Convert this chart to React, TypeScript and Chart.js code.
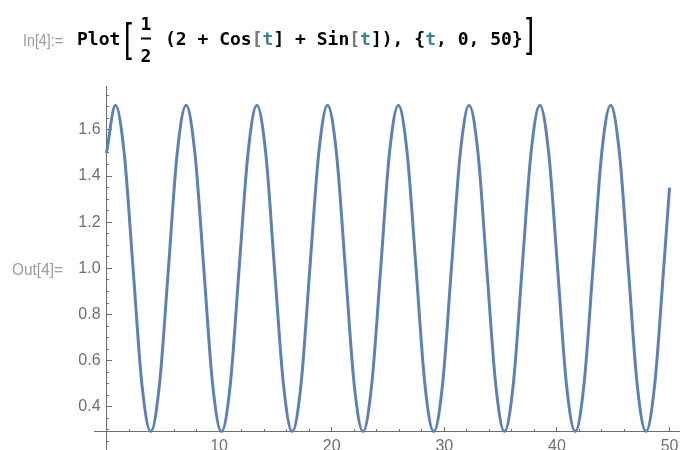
import React, { useEffect, useRef } from "react";
import Chart from "chart.js/auto";

// Samples of f(t) = 1/2 (2 + cos t + sin t) on 0 ≤ t ≤ 50
const T_VALUES = [
  0, 0.79, 1.57, 2.36, 3.14, 3.93, 4.71, 5.5,
  6.28, 7.07, 7.85, 8.64, 9.42, 10.21, 11.0, 11.78,
  12.57, 13.35, 14.14, 14.92, 15.71, 16.49, 17.28, 18.06,
  18.85, 19.63, 20.42, 21.21, 21.99, 22.78, 23.56, 24.35,
  25.13, 25.92, 26.7, 27.49, 28.27, 29.06, 29.85, 30.63,
  31.42, 32.2, 32.99, 33.77, 34.56, 35.34, 36.13, 36.91,
  37.7, 38.48, 39.27, 40.06, 40.84, 41.63, 42.41, 43.2,
  43.98, 44.77, 45.55, 46.34, 47.12, 47.91, 48.69, 49.48,
  50,
];
const F_VALUES = [
  1.5, 1.707, 1.5, 1.0, 0.5, 0.293, 0.5, 1.0,
  1.5, 1.707, 1.5, 1.0, 0.5, 0.293, 0.5, 1.0,
  1.5, 1.707, 1.5, 1.0, 0.5, 0.293, 0.5, 1.0,
  1.5, 1.707, 1.5, 1.0, 0.5, 0.293, 0.5, 1.0,
  1.5, 1.707, 1.5, 1.0, 0.5, 0.293, 0.5, 1.0,
  1.5, 1.707, 1.5, 1.0, 0.5, 0.293, 0.5, 1.0,
  1.5, 1.707, 1.5, 1.0, 0.5, 0.293, 0.5, 1.0,
  1.5, 1.707, 1.5, 1.0, 0.5, 0.293, 0.5, 1.0,
  1.35,
];

// Axis ticks
const X_MAJOR_TICKS = [10, 20, 30, 40, 50];
const X_MINOR_TICKS = [
  2, 4, 6, 8, 12, 14, 16, 18, 22, 24, 26, 28,
  32, 34, 36, 38, 42, 44, 46, 48,
];
const Y_MAJOR_TICKS = [0.4, 0.6, 0.8, 1.0, 1.2, 1.4, 1.6];
const Y_MINOR_TICKS = [
  0.25, 0.3, 0.35, 0.45, 0.5, 0.55, 0.65, 0.7, 0.75, 0.85, 0.9, 0.95,
  1.05, 1.1, 1.15, 1.25, 1.3, 1.35, 1.45, 1.5, 1.55, 1.65, 1.7, 1.75,
];

// Axis ranges; the horizontal axis crosses at the minimum of f
const X_MIN = -1.11;
const X_MAX = 50.93;
const Y_MIN = 0.196;
const Y_MAX = 1.79;
const AXIS_CROSS_Y = 0.2929;
const AXIS_CROSS_X = 0;
// vertical-axis labels end a little to the left of the axis
const Y_LABEL_ANCHOR_X = -0.53;

const LINE_COLOR = "#5e81b5";
const AXIS_COLOR = "#6e6e6e";
const LABEL_COLOR = "#6f6f6f";
const PROMPT_COLOR = "#9b9b9b";
const VAR_COLOR = "#3c8296";
const LABEL_FONT = { family: "'Liberation Sans', Arial, sans-serif", size: 16 };

const setTicks = (values: number[]) => (scale: any) => {
  scale.ticks = values.map((value) => ({ value }));
};

function PlotChart() {
  const canvasRef = useRef<HTMLCanvasElement | null>(null);

  useEffect(() => {
    const canvas = canvasRef.current;
    if (!canvas) return;
    const points = T_VALUES.map((t, i) => ({ x: t, y: F_VALUES[i] }));

    const tickGrid = (len: number) => ({
      drawOnChartArea: false,
      tickLength: len,
      tickColor: AXIS_COLOR,
      tickWidth: 1,
    });

    const chart = new Chart(canvas, {
      type: "line",
      data: {
        datasets: [
          {
            data: points,
            borderColor: LINE_COLOR,
            borderWidth: 3,
            pointRadius: 0,
            fill: false,
            cubicInterpolationMode: "monotone",
          },
        ],
      },
      options: {
        responsive: false,
        animation: false,
        events: [],
        // the canvas runs past the visible frame on the right and bottom,
        // so the plot area reaches the frame edges
        layout: { padding: { left: 94, top: 86, right: 20, bottom: 26 } },
        plugins: { legend: { display: false }, tooltip: { enabled: false } },
        scales: {
          x: {
            type: "linear",
            min: X_MIN,
            max: X_MAX,
            position: { y: AXIS_CROSS_Y },
            afterBuildTicks: setTicks(X_MAJOR_TICKS),
            ticks: {
              autoSkip: false,
              maxRotation: 0,
              color: LABEL_COLOR,
              font: LABEL_FONT,
              padding: 10,
              callback: (v: any) => String(v),
            },
            grid: tickGrid(-5),
            border: { color: AXIS_COLOR, width: 1 },
          },
          xMinor: {
            type: "linear",
            axis: "x",
            min: X_MIN,
            max: X_MAX,
            position: { y: AXIS_CROSS_Y },
            afterBuildTicks: setTicks(X_MINOR_TICKS),
            ticks: { display: false, autoSkip: false },
            grid: tickGrid(-3),
            border: { display: false },
          },
          y: {
            type: "linear",
            min: Y_MIN,
            max: Y_MAX,
            position: { x: AXIS_CROSS_X },
            afterBuildTicks: setTicks(Y_MAJOR_TICKS),
            ticks: { display: false, autoSkip: false },
            grid: tickGrid(-6),
            border: { color: AXIS_COLOR, width: 1 },
          },
          yMinor: {
            type: "linear",
            axis: "y",
            min: Y_MIN,
            max: Y_MAX,
            position: { x: AXIS_CROSS_X },
            afterBuildTicks: setTicks(Y_MINOR_TICKS),
            ticks: { display: false, autoSkip: false },
            grid: tickGrid(-3),
            border: { display: false },
          },
          yLabels: {
            type: "linear",
            axis: "y",
            min: Y_MIN,
            max: Y_MAX,
            position: { x: Y_LABEL_ANCHOR_X },
            afterBuildTicks: setTicks(Y_MAJOR_TICKS),
            ticks: {
              autoSkip: false,
              color: LABEL_COLOR,
              font: LABEL_FONT,
              callback: (v: any) => Number(v).toFixed(1),
            },
            grid: { display: false, drawTicks: false },
            border: { display: false },
          },
        },
      },
    } as any);

    return () => chart.destroy();
  }, []);

  return (
    <canvas
      ref={canvasRef}
      width={700}
      height={480}
      style={{ position: "absolute", left: 0, top: 0, width: 700, height: 480 }}
    />
  );
}

const MONO = "'DejaVu Sans Mono', 'Liberation Mono', monospace";
const NARROW = "'Liberation Sans Narrow', 'Liberation Sans', Arial, sans-serif";
const SANS = "'Liberation Sans', Arial, sans-serif";

function InputLine() {
  return (
    <svg
      width={680}
      height={450}
      style={{ position: "absolute", left: 0, top: 0, pointerEvents: "none" }}
    >
      <text
        x={23}
        y={45.5}
        fontFamily={NARROW}
        fontSize={17}
        fill={PROMPT_COLOR}
        textLength={40}
        lengthAdjust="spacingAndGlyphs"
      >
        In[4]:=
      </text>
      <text x={77} y={45} fontFamily={MONO} fontWeight="bold" fontSize={18} fill="#000">
        Plot
      </text>
      <text
        transform="translate(124 51.5) scale(0.72 1)"
        fontFamily={SANS}
        fontSize={40}
        fill="#000"
      >
        [
      </text>
      <text x={146} y={30} textAnchor="middle" fontFamily={MONO} fontWeight="bold" fontSize={18} fill="#000">
        1
      </text>
      <line x1={141} x2={151} y1={38.5} y2={38.5} stroke="#000" strokeWidth={2} />
      <text x={146} y={62} textAnchor="middle" fontFamily={MONO} fontWeight="bold" fontSize={18} fill="#000">
        2
      </text>
      <text x={165} y={45} fontFamily={MONO} fontWeight="bold" fontSize={18} fill="#000" style={{ whiteSpace: "pre" }}>
        {"(2 + Cos"}
        <tspan fill="#777">[</tspan>
        <tspan fill={VAR_COLOR}>t</tspan>
        {"] + Sin"}
        <tspan fill="#777">[</tspan>
        <tspan fill={VAR_COLOR}>t</tspan>
        {"]), {"}
        <tspan fill={VAR_COLOR}>t</tspan>
        {", 0, 50}"}
      </text>
      <text
        transform="translate(526 47) scale(0.72 1)"
        fontFamily={SANS}
        fontSize={40}
        fill="#000"
      >
        ]
      </text>
      <text
        x={12}
        y={274.5}
        fontFamily={NARROW}
        fontSize={17}
        fill={PROMPT_COLOR}
        textLength={51}
        lengthAdjust="spacingAndGlyphs"
      >
        Out[4]=
      </text>
    </svg>
  );
}

export default function App() {
  return (
    <div
      style={{
        position: "fixed",
        left: 0,
        top: 0,
        width: 680,
        height: 450,
        overflow: "hidden",
        background: "#fff",
      }}
    >
      <PlotChart />
      <InputLine />
    </div>
  );
}
